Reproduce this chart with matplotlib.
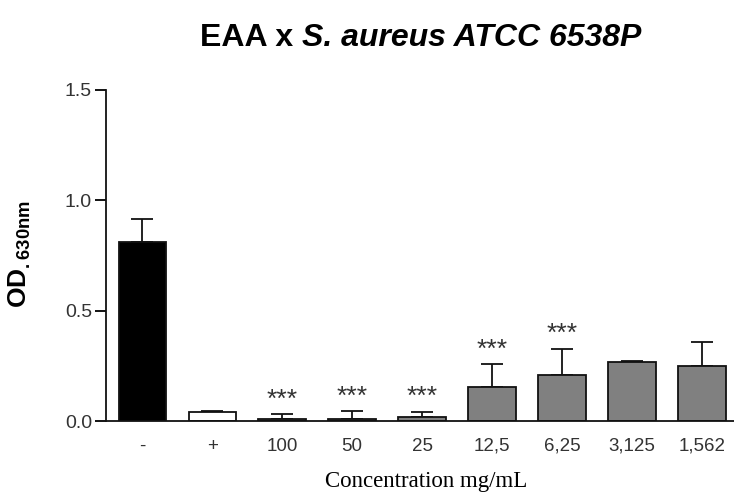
import matplotlib
matplotlib.use("Agg")
import matplotlib.pyplot as plt
import numpy as np

categories = ["-", "+", "100", "50", "25", "12,5", "6,25", "3,125", "1,562"]
means = [0.812, 0.039, 0.010, 0.010, 0.020, 0.155, 0.210, 0.269, 0.250]
errors = [0.102, 0.006, 0.020, 0.035, 0.022, 0.103, 0.118, 0.003, 0.108]
colors = ["#000000", "#ffffff", "#808080", "#808080", "#808080", "#808080", "#808080", "#808080", "#808080"]
significant = [False, False, True, True, True, True, True, False, False]
yticks = [0.0, 0.5, 1.0, 1.5]

plt.rcParams['mathtext.fontset'] = 'custom'
plt.rcParams['mathtext.rm'] = 'Liberation Sans'
plt.rcParams['mathtext.bf'] = 'Liberation Sans:bold'
plt.rcParams['font.family'] = ['Liberation Sans', 'DejaVu Sans']

fig = plt.figure(figsize=(7.34, 4.96), dpi=100)
ax = fig.add_axes([106/734, 1 - 421/496, 1 - 106/734, (421 - 90)/496])

x = np.arange(len(categories))
ax.bar(x, means, width=0.68, color=colors, edgecolor="#111111", linewidth=1.3, zorder=2)
ax.errorbar(x, means, yerr=[np.zeros(len(errors)), errors], fmt='none',
            ecolor="#111111", elinewidth=1.3, capsize=8, capthick=1.3, zorder=1)

for xi, m, e, s in zip(x, means, errors, significant):
    if s:
        ax.text(xi, m + e + 0.012, "***", ha='center', va='bottom',
                fontsize=19, color="#333333")

ax.set_xlim(-0.52, 8.46)
ax.set_ylim(0, 1.5)
ax.set_yticks(yticks)
ax.set_yticklabels([f"{v:.1f}" for v in yticks], fontsize=14, color="#333333")
ax.set_xticks(x)
ax.set_xticklabels(categories, fontsize=13.5, color="#333333")
ax.tick_params(axis='x', length=0, pad=12)
ax.tick_params(axis='y', length=8, width=1.3, pad=2)
for sp in ['top', 'right']:
    ax.spines[sp].set_visible(False)
for sp in ['left', 'bottom']:
    ax.spines[sp].set_linewidth(1.3)
    ax.spines[sp].set_color("#111111")

fig.text(20/734, 1 - 254/496, r'$\mathbf{OD}_{\mathbf{.630nm}}$', rotation=90,
         ha='center', va='center', fontsize=19)

fig.text(426/734, 1 - 482/496, "Concentration mg/mL", ha='center', va='center',
         fontsize=16.5, family='Liberation Serif')

# Title with mixed styles
t1 = fig.text(0, 1 - 38/496, "EAA x ", fontsize=23, fontweight='bold', va='center', ha='left')
t2 = fig.text(0, 1 - 38/496, "S. aureus ATCC 6538P", fontsize=23, fontweight='bold',
              style='italic', va='center', ha='left')
fig.canvas.draw()
r = fig.canvas.get_renderer()
w1 = t1.get_window_extent(r).width
w2 = t2.get_window_extent(r).width
W = fig.bbox.width
start = 421 - (w1 + w2) / 2
t1.set_x(start / W)
t2.set_x((start + w1) / W)

fig.savefig("out.png", dpi=100)
